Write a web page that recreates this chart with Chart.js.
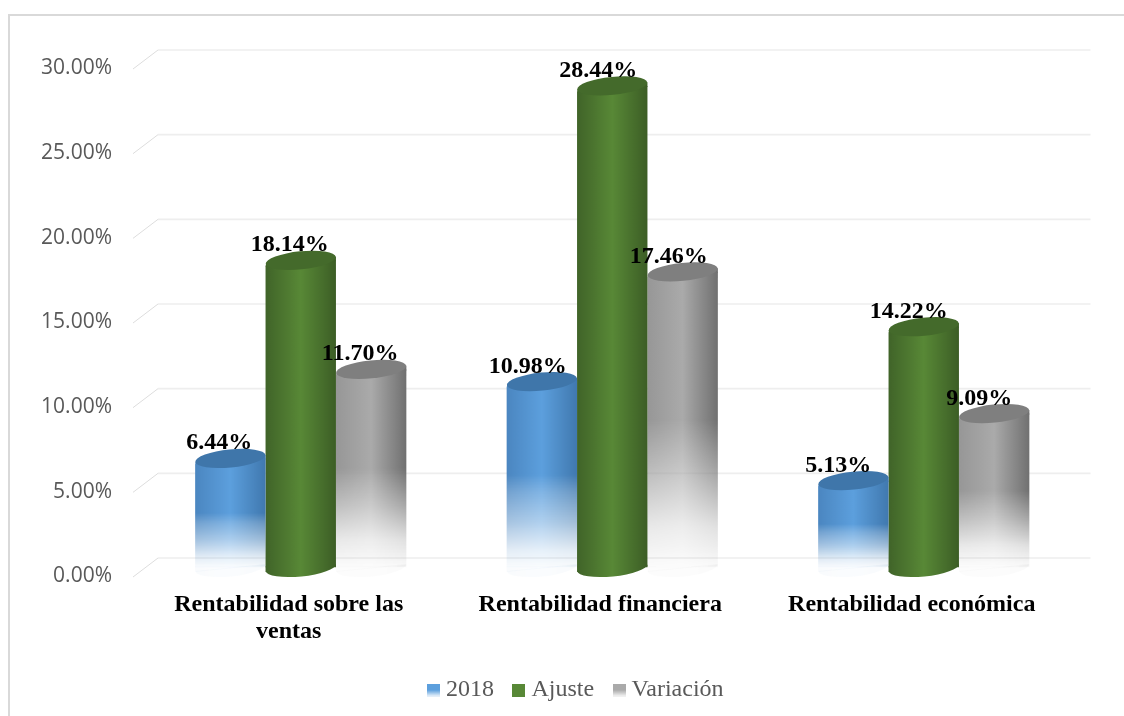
<!DOCTYPE html>
<html lang="es">
<head>
<meta charset="utf-8">
<title>Rentabilidad</title>
<script src="https://cdn.jsdelivr.net/npm/chart.js@4"></script>
<style>
    body { margin: 0; background: #fff; overflow: hidden; }
    #frame { position: absolute; left: 8px; top: 14px; width: 1116px; height: 702px; border-left: 2px solid #d9d9d9; border-top: 2px solid #d9d9d9; box-sizing: border-box; }
    canvas { position: absolute; left: 0; top: 0; }
</style>
</head>
<body>
<div id="frame"></div>
<canvas id="mainChart" width="1124" height="716"></canvas>
<script>
const categories = [['Rentabilidad sobre las', 'ventas'], 'Rentabilidad financiera', 'Rentabilidad económica'];
const seriesNames = ['2018', 'Ajuste', 'Variación'];
const values2018 = [6.44, 10.98, 5.13];
const valuesAjuste = [18.14, 28.44, 14.22];
const valuesVariacion = [11.70, 17.46, 9.09];

// Colores del cilindro: borde izq, centro, borde der, tapa
const shades = [
    ['#4a85bf', '#5c9fdd', '#3f77ad', '#3f76aa'],
    ['#3f6228', '#588836', '#3b5c25', '#446a2b'],
    ['#969696', '#aaaaaa', '#6e6e6e', '#7f7f7f']
];
// Desvanecido vertical (proporcion de la altura, alfa)
const fades = [
    [[0.5, 1], [0.59, 0.78], [0.75, 0.5], [0.9, 0.17], [1, 0.03]],
    null,
    [[0.5, 1], [0.69, 0.61], [0.86, 0.22], [1, 0.03]]
];
const labelShift = [-11, -14, -15];
const catPercent = 0.678;
const margin = 15;

function horizontalShade(c, w, s) {
    const g = c.createLinearGradient(0, 0, w, 0);
    g.addColorStop(0, s[0]);
    g.addColorStop(0.5, s[1]);
    g.addColorStop(1, s[2]);
    return g;
}

function barFill(ctx) {
    const d = ctx.datasetIndex;
    if (ctx.type !== 'data') return shades[d][1];
    const chart = ctx.chart;
    const xs = chart.scales.x, ys = chart.scales.y;
    const barW = (xs.width / categories.length) * catPercent / 3;
    const cx = xs.getPixelForValue(ctx.dataIndex) + (d - 1) * barW;
    const top = ys.getPixelForValue(chart.data.datasets[d].data[ctx.dataIndex]);
    const h = ys.getPixelForValue(0) - top;
    const w = Math.ceil(barW) + 2;

    const off = document.createElement('canvas');
    off.width = w;
    off.height = Math.ceil(h) + margin * 2;
    const c = off.getContext('2d');
    c.fillStyle = horizontalShade(c, w, shades[d]);
    c.fillRect(0, 0, w, off.height);
    if (fades[d]) {
        const g = c.createLinearGradient(0, margin, 0, margin + h);
        g.addColorStop(0, '#000');
        fades[d].forEach(([t, a]) => g.addColorStop(t, `rgba(0,0,0,${a})`));
        c.globalCompositeOperation = 'destination-in';
        c.fillStyle = g;
        c.fillRect(0, 0, w, off.height);
    }
    const pattern = chart.ctx.createPattern(off, 'no-repeat');
    pattern.setTransform(new DOMMatrix([1, 0, 0, 1, cx - w / 2, top - margin]));
    return pattern;
}

function legendMark(i) {
    const off = document.createElement('canvas');
    off.width = 13;
    off.height = 13;
    const c = off.getContext('2d');
    c.fillStyle = shades[i][1];
    c.fillRect(0, 0, 13, 13);
    if (fades[i]) {
        const g = c.createLinearGradient(0, 0, 0, 13);
        g.addColorStop(0.5, '#000');
        g.addColorStop(1, 'rgba(0,0,0,0.1)');
        c.globalCompositeOperation = 'destination-in';
        c.fillStyle = g;
        c.fillRect(0, 0, 13, 13);
    }
    return off;
}

// Pared del fondo: lineas de la cuadricula con su diagonal lateral
const wallPlugin = {
    id: 'wall',
    afterLayout(chart) {
        chart.legend.left += 77;
    },
    beforeDatasetsDraw(chart) {
        const { ctx, scales: { y }, chartArea: a } = chart;
        y.ticks.forEach(t => {
            const py = y.getPixelForValue(t.value);
            ctx.beginPath();
            ctx.moveTo(a.left + 13, py - 9.5);
            ctx.lineTo(a.right + 11, py - 9.5);
            ctx.strokeStyle = '#eeeeee';
            ctx.lineWidth = 1.6;
            ctx.stroke();
            ctx.beginPath();
            ctx.moveTo(a.left - 12, py + 9.5);
            ctx.lineTo(a.left + 13, py - 9.5);
            ctx.strokeStyle = '#dddddd';
            ctx.lineWidth = 1;
            ctx.stroke();
        });
    }
};

// Tapas elipticas de cada cilindro y etiquetas de valor
const capsPlugin = {
    id: 'caps',
    afterDatasetDraw(chart, args) {
        const ctx = chart.ctx;
        const tilt = -0.1, ry = 9;
        args.meta.data.forEach(el => {
            const { x, y, base, width } = el;
            const rx = width / 2;
            const dy = rx * Math.sin(-tilt);
            ctx.save();
            ctx.fillStyle = el.options.backgroundColor;
            // base del cilindro, solapada con la barra para no dejar costura
            ctx.beginPath();
            ctx.ellipse(x, base, rx, ry, tilt, 0, Math.PI);
            ctx.fill();
            ctx.beginPath();
            ctx.moveTo(x - rx, base - 1);
            ctx.lineTo(x + rx, base - 1);
            ctx.lineTo(x + rx, base - dy + 1);
            ctx.lineTo(x - rx, base + dy + 1);
            ctx.closePath();
            ctx.fill();
            ctx.beginPath();
            ctx.moveTo(x + rx, y - dy);
            ctx.lineTo(x, y);
            ctx.lineTo(x + rx, y + 1);
            ctx.closePath();
            ctx.fill();
            ctx.fillStyle = shades[args.index][3];
            ctx.beginPath();
            ctx.ellipse(x, y, rx, ry, tilt, 0, Math.PI * 2);
            ctx.fill();
            ctx.restore();
        });
    },
    afterDatasetsDraw(chart) {
        const ctx = chart.ctx;
        ctx.save();
        ctx.font = 'bold 24px "Liberation Serif"';
        ctx.fillStyle = '#000';
        ctx.textAlign = 'center';
        ctx.textBaseline = 'alphabetic';
        chart.data.datasets.forEach((ds, d) => {
            chart.getDatasetMeta(d).data.forEach((el, i) => {
                ctx.fillText(ds.data[i].toFixed(2) + '%', el.x + labelShift[i], el.y - 9);
            });
        });
        ctx.restore();
    }
};

const ctx = document.getElementById('mainChart').getContext('2d');
const makeSet = (label, data) => ({
    label,
    data,
    backgroundColor: barFill,
    borderWidth: 0,
    borderSkipped: false,
    borderRadius: { topLeft: 6, topRight: 0, bottomLeft: 0, bottomRight: 0 },
    categoryPercentage: catPercent,
    barPercentage: 1
});

new Chart(ctx, {
    type: 'bar',
    data: {
        labels: categories,
        datasets: [
            makeSet(seriesNames[0], values2018),
            makeSet(seriesNames[1], valuesAjuste),
            makeSet(seriesNames[2], valuesVariacion)
        ]
    },
    options: {
        responsive: false,
        animation: false,
        layout: { padding: { top: 59.5, right: 44.5, left: 0, bottom: 4 } },
        plugins: {
            tooltip: { enabled: false },
            legend: {
                position: 'bottom',
                labels: {
                    usePointStyle: true,
                    pointStyleWidth: 1,
                    padding: 24.5,
                    font: { family: '"Liberation Serif"', size: 24 },
                    generateLabels: () => seriesNames.map((name, i) => ({
                        text: name,
                        datasetIndex: i,
                        pointStyle: legendMark(i),
                        fontColor: '#595959',
                        lineWidth: 0
                    }))
                }
            }
        },
        scales: {
            x: {
                grid: { display: false },
                border: { display: false },
                afterFit: s => { s.height = 86; },
                ticks: {
                    color: '#000',
                    padding: 16,
                    labelOffset: -12,
                    maxRotation: 0,
                    autoSkip: false,
                    font: { family: '"Liberation Serif"', size: 24, weight: 'bold', lineHeight: 1.13 }
                }
            },
            y: {
                min: 0,
                max: 30,
                grid: { display: false, drawTicks: false },
                border: { display: false },
                afterFit: s => { s.width = 145; },
                ticks: {
                    stepSize: 5,
                    color: '#595959',
                    padding: 33,
                    font: { family: '"Open Sans"', size: 21, lineHeight: '18px' },
                    callback: v => ['', v.toFixed(2) + '%']
                }
            }
        }
    },
    plugins: [wallPlugin, capsPlugin]
});
</script>
</body>
</html>
